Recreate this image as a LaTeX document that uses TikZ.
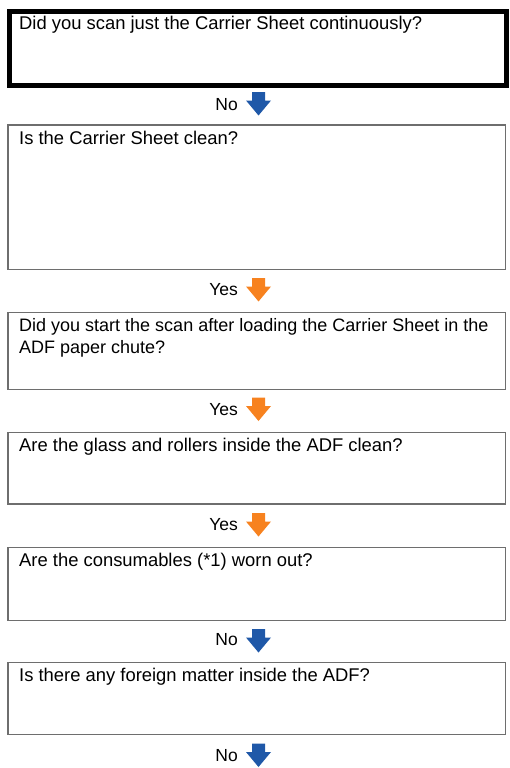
\documentclass[tikz,border=0pt]{standalone}
\usepackage{fontspec}
\setmainfont{Liberation Sans}
\definecolor{arrblue}{RGB}{31,88,168}
\definecolor{arrorange}{RGB}{247,130,31}
\definecolor{boxgray}{RGB}{110,110,110}
\tikzset{
  qbox/.style={draw=boxgray, line width=1.2pt, rectangle, inner sep=0pt, anchor=north west},
  firstbox/.style={draw=black, line width=5pt, rectangle, inner sep=0pt, anchor=north west},
  qtext/.style={anchor=base west, inner sep=0pt, align=left, font=\fontsize{18.4}{21.6}\selectfont},
  lbl/.style={anchor=base east, inner sep=0pt, font=\fontsize{17.5}{21}\selectfont},
  pics/downarrow/.style={code={
    \fill[#1] (-6.5,0) -- (6.5,0) -- (6.5,8.5) -- (12.5,8.5) -- (0,23.5) -- (-12.5,8.5) -- (-6.5,8.5) -- cycle;
  }}
}
\begin{document}
\begin{tikzpicture}[x=1pt,y=-1pt]
\useasboundingbox (0,0) rectangle (509,768);
% boxes
\node[firstbox, minimum width=497.6pt, minimum height=73.3pt] (b1) at (6.7,9.2) {};
\node[qbox, minimum width=497.7pt, minimum height=144.4pt] (b2) at (7.3,124.3) {};
\node[qbox, minimum width=497.7pt, minimum height=77pt] (b3) at (7.3,312) {};
\node[qbox, minimum width=497.7pt, minimum height=71.6pt] (b4) at (7.3,431.7) {};
\node[qbox, minimum width=497.7pt, minimum height=73.3pt] (b5) at (7.3,546.7) {};
\node[qbox, minimum width=497.7pt, minimum height=72.3pt] (b6) at (7.3,661.7) {};
% texts
\node[qtext] (t1) at (19,29.5) {Did you scan just the Carrier Sheet continuously?};
\node[qtext] (t2) at (19,144.5) {Is the Carrier Sheet clean?};
\node[qtext, font=\fontsize{18}{21.6}\selectfont] (t3) at (19,353.3) {Did you start the scan after loading the Carrier Sheet in the\\ADF paper chute?};
\node[qtext] (t4) at (19,451.5) {Are the glass and rollers inside the ADF clean?};
\node[qtext] (t5) at (19,566.5) {Are the consumables (*1) worn out?};
\node[qtext] (t6) at (19,681.5) {Is there any foreign matter inside the ADF?};
% arrows and labels
\pic at (258.5,92) {downarrow=arrblue};
\node[lbl] (l1) at (238,110) {No};
\pic at (258.5,278) {downarrow=arrorange};
\node[lbl] (l2) at (238,295) {Yes};
\pic at (258.5,397.5) {downarrow=arrorange};
\node[lbl] (l3) at (238,415) {Yes};
\pic at (258.5,513) {downarrow=arrorange};
\node[lbl] (l4) at (238,530) {Yes};
\pic at (258.5,629) {downarrow=arrblue};
\node[lbl] (l5) at (238,645) {No};
\pic at (258.5,743.5) {downarrow=arrblue};
\node[lbl] (l6) at (238,761.5) {No};
\end{tikzpicture}
\end{document}
